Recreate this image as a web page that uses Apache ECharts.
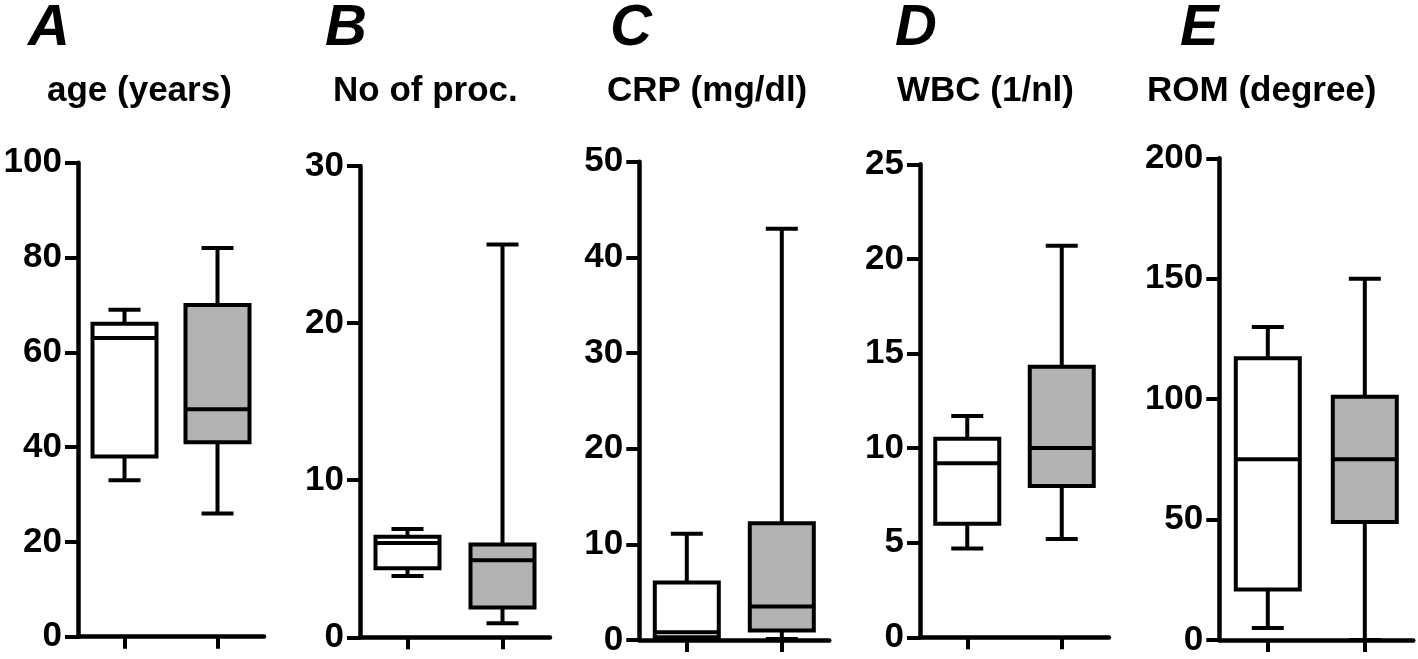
<!DOCTYPE html>
<html>
<head>
<meta charset="utf-8">
<script src="https://cdn.jsdelivr.net/npm/echarts@6/dist/echarts.min.js"></script>
<style>
html,body{margin:0;padding:0;background:#fff;}
#chart{width:1418px;height:659px;}
</style>
</head>
<body>
<div id="chart"></div>
<script>
// ---- data ----
const categories = ['Group 1', 'Group 2'];
const panelLetters = ['A', 'B', 'C', 'D', 'E'];
const panelTitles = ['age (years)', 'No of proc.', 'CRP (mg/dl)', 'WBC (1/nl)', 'ROM (degree)'];
const yMax = [100, 30, 50, 25, 200];
const yInterval = [20, 10, 10, 5, 50];
// [min, Q1, median, Q3, max] for group 1 and group 2
const ageGroup1 = [33, 38, 63, 66, 69];
const ageGroup2 = [26, 41, 48, 70, 82];
const procGroup1 = [3.9, 4.4, 6.0, 6.4, 6.9];
const procGroup2 = [0.9, 1.9, 4.9, 5.9, 25];
const crpGroup1 = [0.1, 0.3, 0.8, 6.0, 11.1];
const crpGroup2 = [0.1, 1.0, 3.5, 12.2, 43];
const wbcGroup1 = [4.7, 6.0, 9.2, 10.5, 11.7];
const wbcGroup2 = [5.2, 8.0, 10.0, 14.3, 20.7];
const romGroup1 = [5, 21, 75, 117, 130];
const romGroup2 = [0, 49, 75, 101, 150];

const panelData = [
  [ageGroup1, ageGroup2],
  [procGroup1, procGroup2],
  [crpGroup1, crpGroup2],
  [wbcGroup1, wbcGroup2],
  [romGroup1, romGroup2]
];

// ---- layout ----
const gridLayout = [
  {left: 78, width: 186, top: 162.7, bottom: 22.3},
  {left: 360, width: 190, top: 166, bottom: 21.7},
  {left: 639.3, width: 190, top: 161.7, bottom: 19},
  {left: 920, width: 189, top: 164.3, bottom: 21.7},
  {left: 1219.3, width: 194, top: 158.3, bottom: 19}
];
const letterX = [28, 325, 610, 895, 1180];
const titleX = [47, 333, 607, 897, 1147];
const fillColors = ['#ffffff', '#b3b3b3'];
const FONT = '"Liberation Sans", Arial, Helvetica, sans-serif';

function renderBox(params, api) {
  const idx = api.value(0);
  const vals = [api.value(1), api.value(2), api.value(3), api.value(4), api.value(5)];
  const cx = api.coord([idx, 0])[0];
  const ys = vals.map(v => api.coord([idx, v])[1]);
  const half = 32, cap = 16;
  const lw = 4;
  const ls = {stroke: '#000', lineWidth: lw};
  return {
    type: 'group',
    children: [
      {type: 'line', shape: {x1: cx, y1: ys[0], x2: cx, y2: ys[1]}, style: ls},
      {type: 'line', shape: {x1: cx, y1: ys[3], x2: cx, y2: ys[4]}, style: ls},
      {type: 'line', shape: {x1: cx - cap, y1: ys[0], x2: cx + cap, y2: ys[0]}, style: ls},
      {type: 'line', shape: {x1: cx - cap, y1: ys[4], x2: cx + cap, y2: ys[4]}, style: ls},
      {type: 'rect', shape: {x: cx - half, y: ys[3], width: 2 * half, height: ys[1] - ys[3]},
        style: {fill: fillColors[idx], stroke: '#000', lineWidth: lw}},
      {type: 'line', shape: {x1: cx - half, y1: ys[2], x2: cx + half, y2: ys[2]}, style: ls}
    ]
  };
}

const grids = [], xAxes = [], yAxes = [], series = [], graphics = [];
for (let i = 0; i < 5; i++) {
  grids.push(Object.assign({containLabel: false}, gridLayout[i]));
  xAxes.push({
    type: 'category', gridIndex: i, data: categories, boundaryGap: true,
    axisLine: {show: true, lineStyle: {color: '#000', width: 4.5}},
    axisTick: {show: true, alignWithLabel: true, length: 12, lineStyle: {color: '#000', width: 4}},
    axisLabel: {show: false}, splitLine: {show: false}
  });
  yAxes.push({
    type: 'value', gridIndex: i, min: 0, max: yMax[i], interval: yInterval[i],
    axisLine: {show: true, lineStyle: {color: '#000', width: 4.5}},
    axisTick: {show: true, length: 13, lineStyle: {color: '#000', width: 4}},
    axisLabel: {show: true, margin: 16, color: '#000', fontSize: 35, fontWeight: 'bold', fontFamily: FONT},
    splitLine: {show: false}
  });
  series.push({
    type: 'custom', xAxisIndex: i, yAxisIndex: i,
    renderItem: renderBox,
    encode: {x: 0, y: [1, 2, 3, 4, 5]},
    data: panelData[i].map((d, k) => [k].concat(d)),
    z: 5, silent: true
  });
  graphics.push({
    type: 'text', x: letterX[i], y: 29,
    style: {text: panelLetters[i], font: 'italic bold 58px ' + FONT, fill: '#000', textAlign: 'left', textVerticalAlign: 'middle', verticalAlign: 'middle'}
  });
  graphics.push({
    type: 'text', x: titleX[i], y: 91,
    style: {text: panelTitles[i], font: 'bold 35px ' + FONT, fill: '#000', textAlign: 'left', textVerticalAlign: 'middle', verticalAlign: 'middle'}
  });
}

const chart = echarts.init(document.getElementById('chart'), null, {renderer: 'canvas'});
chart.setOption({
  animation: false,
  backgroundColor: '#fff',
  grid: grids,
  xAxis: xAxes,
  yAxis: yAxes,
  series: series,
  graphic: graphics
});
</script>
</body>
</html>
